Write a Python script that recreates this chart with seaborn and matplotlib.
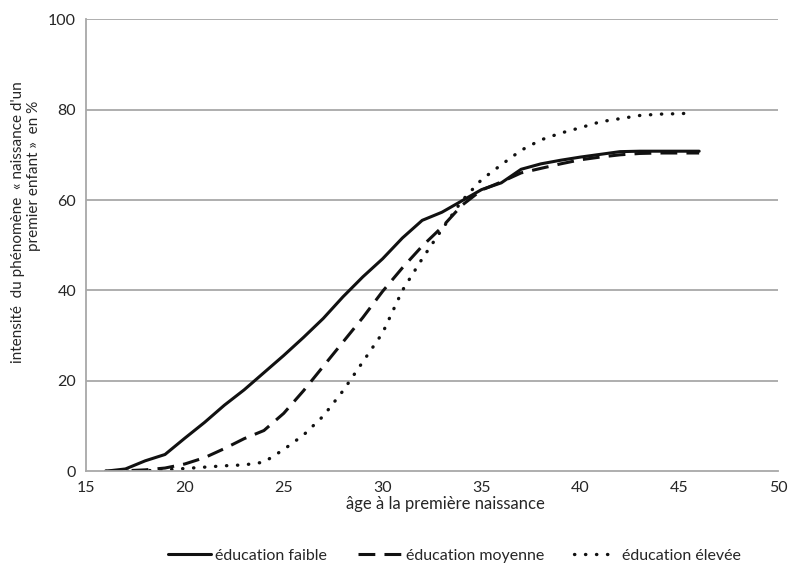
import numpy as np
import pandas as pd
import matplotlib
matplotlib.use("Agg")
import matplotlib.pyplot as plt
import seaborn as sns

ages = list(range(16, 47))
ages_elevee = list(range(16, 46)) + [45.5]

faible = [0, 0.5, 2.3, 3.7, 7.3, 10.8, 14.6, 18.0, 21.8, 25.6, 29.6, 33.8, 38.6, 43.0,
          47.0, 51.6, 55.5, 57.3, 59.8, 62.3, 63.8, 66.8, 68.0, 68.8, 69.5, 70.1, 70.7,
          70.8, 70.8, 70.8, 70.8]
moyenne = [0, 0.1, 0.3, 0.7, 1.6, 3.0, 5.0, 7.2, 9.0, 12.8, 17.8, 23.2, 28.6, 34.0,
           39.8, 45.0, 49.8, 54.0, 58.8, 62.2, 64.0, 66.0, 67.0, 68.0, 68.9, 69.5, 70.0,
           70.3, 70.4, 70.4, 70.4]
elevee = [0, 0, 0.1, 0.3, 0.6, 0.9, 1.2, 1.4, 2.0, 4.8, 8.0, 12.2, 17.8, 24.2, 30.6,
          40.0, 47.0, 53.5, 59.8, 64.5, 67.8, 71.0, 73.3, 74.8, 76.0, 77.3, 78.0, 78.7,
          79.0, 79.1, 79.2]

labels = ["éducation faible", "éducation moyenne", "éducation élevée"]
x_ticks = [15, 20, 25, 30, 35, 40, 45, 50]
y_ticks = [0, 20, 40, 60, 80, 100]

sns.set_style("white")
plt.rcParams['font.family'] = ['Lato', 'DejaVu Sans']
txt_col = '#262626'

fig = plt.figure(figsize=(7.95, 5.65), dpi=100)
ax = fig.add_axes([0.108, 0.166, 0.871, 0.800])

grid_col = "#a8a8a8"
for yv in y_ticks[1:]:
    ax.axhline(yv, color=grid_col, lw=1.3, zorder=0)

series = [(ages, faible, labels[0]), (ages, moyenne, labels[1]), (ages_elevee, elevee, labels[2])]
styles = [dict(linestyle='-', linewidth=2.2),
          dict(linestyle=(0, (5.5, 3)), linewidth=2.2),
          dict(linestyle=(0, (0.1, 3.2)), linewidth=2.4, dash_capstyle='round')]

for (xs, ys, lab), st in zip(series, styles):
    df = pd.DataFrame({'age': xs, 'val': ys})
    sns.lineplot(data=df, x='age', y='val', ax=ax, color='#111111', label=lab, **st)

ax.set_xlim(15, 50)
ax.set_ylim(0, 100)
ax.set_xticks(x_ticks)
ax.set_yticks(y_ticks)
ax.tick_params(axis='both', labelsize=11.5, labelcolor=txt_col, length=5, width=1.2,
               color=grid_col, direction='out', pad=2)
for s in ['top', 'right']:
    ax.spines[s].set_visible(False)
for s in ['left', 'bottom']:
    ax.spines[s].set_color(grid_col)
    ax.spines[s].set_linewidth(1.3)

ax.set_xlabel("âge à la première naissance", fontsize=12, color=txt_col)
ax.xaxis.set_label_coords(0.519, -0.055)
ylab = ax.set_ylabel("intensité  du phénomène  « naissance d'un\npremier enfant »  en %\u00a0\u00a0\u00a0\u00a0\u00a0",
                     fontsize=11, color=txt_col, linespacing=1.15)
ylab.set_multialignment('right')
ax.yaxis.set_label_coords(-0.065, 0.55)

leg = ax.legend(loc='lower center', bbox_to_anchor=(0.532, -0.235), ncol=3, frameon=False,
                fontsize=11.5, handlelength=2.7, handletextpad=0.3, columnspacing=1.9)
for t in leg.get_texts():
    t.set_color(txt_col)

fig.savefig("out.png", dpi=100)
